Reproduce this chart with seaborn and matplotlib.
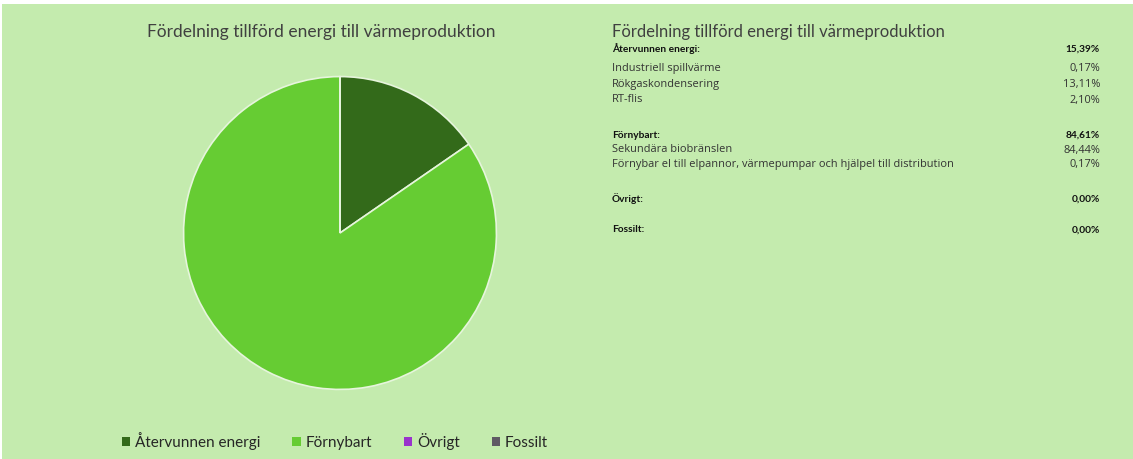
import matplotlib
matplotlib.use("Agg")
import matplotlib.pyplot as plt
import matplotlib.patches as mpatches
import seaborn as sns

# data
categories = ["Återvunnen energi", "Förnybart", "Övrigt", "Fossilt"]
shares = [15.39, 84.61, 0.00, 0.00]
slice_colors = ["#336a1a", "#66cc33", "#9933cc", "#5f5a64"]

title = "Fördelning tillförd energi till värmeproduktion"

# table rows: (label, value, bold)
table_labels = [
    "Återvunnen energi:", "Industriell spillvärme", "Rökgaskondensering", "RT-flis",
    "Förnybart:", "Sekundära biobränslen",
    "Förnybar el till elpannor, värmepumpar och hjälpel till distribution",
    "Övrigt:", "Fossilt:",
]
table_values = ["15,39%", "0,17%", "13,11%", "2,10%",
                "84,61%", "84,44%", "0,17%", "0,00%", "0,00%"]
table_bold = [True, False, False, False, True, False, False, True, True]
table_rows_px = [49, 68, 84, 100, 135, 150, 165, 199, 230]

sns.set_style("white")
plt.rcParams["font.family"] = ["Lato", "DejaVu Sans"]

W, H = 1133, 459
bg = "#c4ebae"
fig = plt.figure(figsize=(W / 100, H / 100), dpi=100, facecolor="white")
fig.patches.append(mpatches.Rectangle((2 / W, 0), 1, (H - 4) / H,
                                      transform=fig.transFigure,
                                      facecolor=bg, edgecolor="none", zorder=-5))

# pie
cx, cy, r = 340, 233, 158
ax = fig.add_axes([(cx - r) / W, (H - cy - r) / H, 2 * r / W, 2 * r / H])
ax.set_zorder(2)
ax.set_facecolor("none")
wedges, _ = ax.pie(shares, colors=slice_colors, startangle=90, counterclock=False,
                   radius=1.0, wedgeprops=dict(edgecolor="#e6f5dc", linewidth=1.2))
ax.set_xlim(-1.01, 1.01)
ax.set_ylim(-1.01, 1.01)
ax.set_aspect("equal")
ax.axis("off")

fig.text(321 / W, 1 - 32 / H, title, ha="center", va="center",
         fontsize=12.5, color="#404040")

handles = [mpatches.Patch(facecolor=c, edgecolor="none") for c in slice_colors]
fig.legend(handles, categories, loc="center", ncol=4,
           bbox_to_anchor=(335 / W, 1 - 441 / H), frameon=False,
           fontsize=11, handlelength=0.55, handleheight=0.55,
           handletextpad=0.3, columnspacing=2.1, labelcolor="#262626")

# table on the right
fig.text(612 / W, 1 - 32 / H, title, ha="left", va="center",
         fontsize=12, color="#404040")
for lab, val, b, y in zip(table_labels, table_values, table_bold, table_rows_px):
    if b:
        fam = ["Liberation Sans Narrow", "Lato", "DejaVu Sans"]
        kw = dict(fontsize=7.3, fontweight="bold", color="#111111")
    else:
        fam = ["Open Sans", "DejaVu Sans"]
        kw = dict(fontsize=7.9, fontweight="normal", color="#333333")
    fig.text(612 / W, 1 - y / H, lab, ha="left", va="center", family=fam, **kw)
    fig.text(1100 / W, 1 - y / H, val, ha="right", va="center", family=fam, **kw)

fig.savefig("out.png", dpi=100, facecolor=fig.get_facecolor())
